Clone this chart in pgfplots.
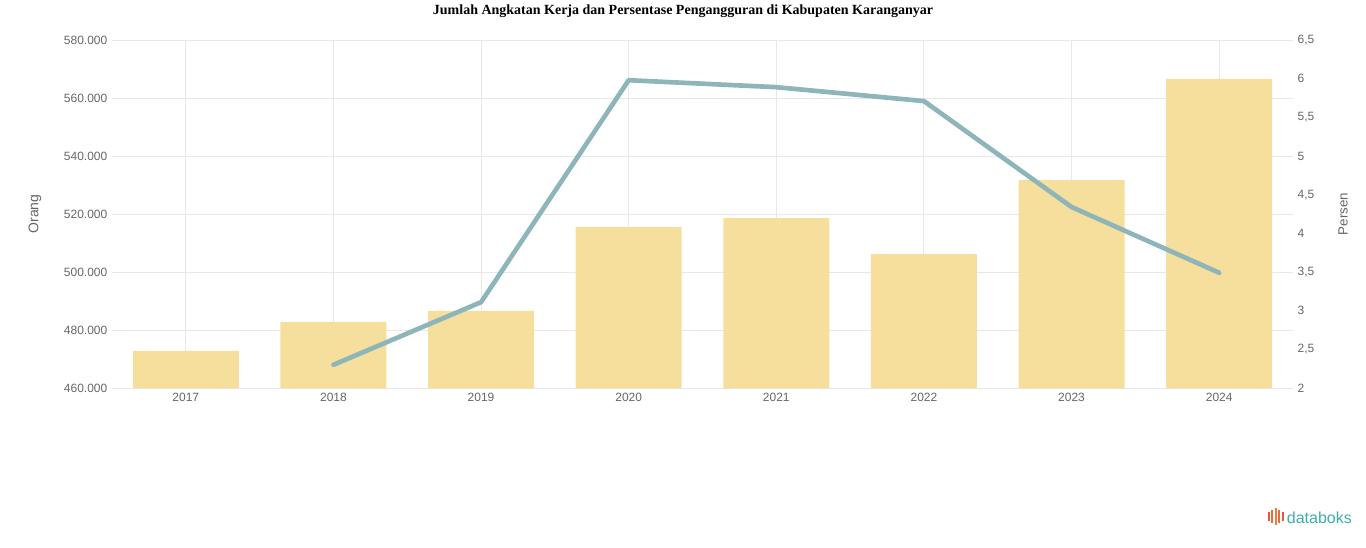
\documentclass[border=0pt]{standalone}
\usepackage{pgfplots}
\pgfplotsset{compat=1.18}
\usepackage{fontspec}
\setmainfont{Liberation Sans}
\newfontfamily\titlefont{Liberation Serif}
\definecolor{barc}{HTML}{F6DF9C}
\definecolor{linec}{HTML}{8DB5BA}
\definecolor{tickc}{HTML}{666666}
\definecolor{gridc}{HTML}{E8E8E8}
\definecolor{logoc}{HTML}{3FADA8}

\begin{document}
\begin{tikzpicture}
% page: 1366 x 547 px, 1 px = 0.75pt
\useasboundingbox (0,0) rectangle (1024.5pt,410.25pt);

\begin{axis}[
    at={(84pt,119.25pt)}, anchor=south west,
    scale only axis, width=885.75pt, height=261pt,
    xmin=-0.5, xmax=7.5,
    ymin=460000, ymax=580000,
    ytick={460000,480000,...,580000},
    xtick={0,...,7},
    xticklabels={2017,2018,2019,2020,2021,2022,2023,2024},
    xmajorgrids, ymajorgrids,
    grid style={gridc, line width=0.75pt},
    axis line style={draw=none},
    major tick length=0pt,
    scaled y ticks=false,
    ticklabel style={font=\fontsize{9}{10}\selectfont, text=tickc},
    /pgf/number format/assume math mode=true,
    yticklabel style={/pgf/number format/fixed, /pgf/number format/precision=0,
      /pgf/number format/1000 sep={.}},
    ylabel={Orang},
    every axis y label/.style={at={(rel axis cs:0,0.5)}, xshift=-57.75pt,
      rotate=90, font=\fontsize{10.5}{12}\selectfont, text=tickc},
]
\addplot[ybar, bar width=79.5pt, fill=barc, draw=none] coordinates {
    (0,472800) (1,482800) (2,486600) (3,515500)
    (4,518600) (5,506200) (6,531700) (7,566600)
};
\end{axis}

\begin{axis}[
    at={(84pt,119.25pt)}, anchor=south west,
    scale only axis, width=885.75pt, height=261pt,
    xmin=-0.5, xmax=7.5,
    ymin=2, ymax=6.5,
    ytick={2,2.5,...,6.5},
    axis x line=none,
    axis y line*=right,
    axis line style={draw=none},
    major tick length=0pt,
    ticklabel style={font=\fontsize{9}{10}\selectfont, text=tickc},
    /pgf/number format/assume math mode=true,
    yticklabel style={/pgf/number format/fixed, /pgf/number format/use comma},
    ylabel={Persen},
    every axis y label/.style={at={(rel axis cs:1,0.5)}, xshift=37.5pt,
      rotate=90, font=\fontsize{10}{12}\selectfont, text=tickc},
]
\addplot[linec, line width=3.5pt, line join=round, line cap=round] coordinates {
    (1,2.30) (2,3.11) (3,5.98) (4,5.89) (5,5.71) (6,4.34) (7,3.49)
};
\end{axis}

\node[font=\titlefont\bfseries\fontsize{10.5}{12}\selectfont] at (512.25pt,402pt)
  {Jumlah Angkatan Kerja dan Persentase Pengangguran di Kabupaten Karanganyar};

% databoks logo
\foreach \i/\h/\c in {0/7/E8553F,1/10/EE6A3A,2/13/F07F3C,3/10/EE6A3A,4/7/E8553F}{
  \definecolor{tmpc}{HTML}{\c}
  \fill[tmpc] ({951pt+\i*2.6pt},{20pt-0.5*\h pt+3pt}) rectangle ++(1.5pt,\h pt);
}
\node[anchor=west, font=\fontsize{12}{13}\selectfont, text=logoc, inner sep=0pt] at (965pt,21.75pt) {databoks};
\end{tikzpicture}
\end{document}
